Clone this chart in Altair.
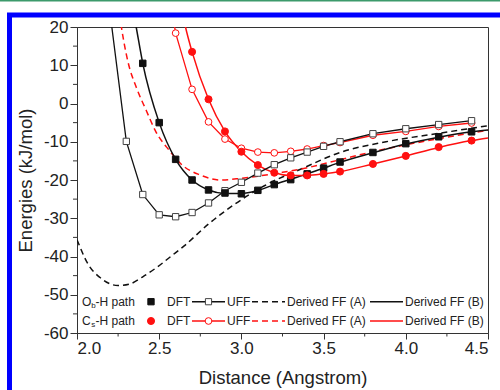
import altair as alt
import pandas as pd

# ---------------- data ----------------
# DFT points
dft_ob_x = [2.4, 2.5, 2.6, 2.7, 2.8, 2.9, 3.0, 3.1, 3.2, 3.3, 3.4, 3.5, 3.6, 3.8, 4.0, 4.2, 4.4]
dft_ob_e = [10.5, -5.0, -14.6, -20.0, -22.6, -23.4, -23.6, -22.7, -21.2, -19.9, -18.4, -16.9, -15.3, -12.8, -10.5, -8.7, -7.4]
dft_cs_x = [2.7, 2.8, 2.9, 3.0, 3.1, 3.2, 3.3, 3.4, 3.5, 3.6, 3.8, 4.0, 4.2, 4.4]
dft_cs_e = [13.5, 1.1, -7.3, -12.6, -16.1, -18.1, -18.8, -18.8, -18.4, -17.8, -15.8, -13.7, -11.4, -9.7]

# UFF
uff_ob_x = [2.2, 2.3, 2.4, 2.5, 2.6, 2.7, 2.8, 2.9, 3.0, 3.1, 3.2, 3.3, 3.4, 3.5, 3.6, 3.8, 4.0, 4.2, 4.4]
uff_ob_e = [24.0, -9.9, -23.8, -29.1, -29.6, -28.5, -26.0, -22.8, -20.6, -18.2, -16.0, -14.2, -12.7, -11.2, -10.0, -7.9, -6.6, -5.5, -4.5]
uff_cs_x = [2.5, 2.6, 2.7, 2.8, 2.9, 3.0, 3.1, 3.2, 3.3, 3.4, 3.5, 3.6, 3.8, 4.0, 4.2, 4.4]
uff_cs_e = [45.0, 18.4, 3.7, -4.8, -9.3, -11.7, -12.7, -12.9, -12.5, -11.9, -11.0, -10.2, -8.3, -7.3, -6.0, -5.1]

# Derived FF (A)
ffa_ob_x = [2.0, 2.07, 2.14, 2.25, 2.32, 2.4, 2.49, 2.57, 2.65, 2.8, 2.95, 3.14, 3.37, 3.6, 3.88, 4.2, 4.5]
ffa_ob_e = [-35.6, -42.2, -45.5, -47.6, -47.2, -45.3, -42.7, -40.0, -37.3, -31.5, -26.6, -21.5, -17.0, -12.8, -10.0, -7.8, -5.8]
ffa_cs_x = [2.25, 2.27, 2.31, 2.36, 2.42, 2.48, 2.56, 2.64, 2.75, 2.87, 2.99, 3.1, 3.25, 3.4, 3.6, 3.8, 4.0, 4.2, 4.5]
ffa_cs_e = [26.0, 20.0, 10.9, 4.3, -1.7, -7.4, -12.2, -16.1, -18.7, -20.0, -19.6, -19.0, -18.0, -16.8, -14.7, -12.6, -10.8, -9.2, -7.0]

# Derived FF (B)
ffb_ob_x = [2.33, 2.36, 2.4, 2.5, 2.6, 2.7, 2.8, 2.9, 3.0, 3.1, 3.2, 3.3, 3.4, 3.5, 3.6, 3.8, 4.0, 4.2, 4.4, 4.5]
ffb_ob_e = [27.0, 20.0, 10.5, -5.0, -14.6, -20.0, -22.6, -23.5, -23.5, -22.7, -21.2, -19.8, -18.4, -16.9, -15.4, -12.9, -10.6, -8.8, -7.4, -6.9]
ffb_cs_x = [2.64, 2.66, 2.7, 2.8, 2.9, 3.0, 3.1, 3.2, 3.3, 3.4, 3.5, 3.6, 3.8, 4.0, 4.2, 4.4, 4.5]
ffb_cs_e = [24.0, 20.0, 13.5, 1.1, -7.3, -12.6, -16.1, -18.1, -18.8, -18.8, -18.4, -17.8, -15.8, -13.7, -11.5, -9.7, -9.0]

x_ticks = [2.0, 2.5, 3.0, 3.5, 4.0, 4.5]
x_minor = [2.25, 2.75, 3.25, 3.75, 4.25]
y_ticks = [20, 10, 0, -10, -20, -30, -40, -50, -60]
y_minor = [15, 5, -5, -15, -25, -35, -45, -55]

# ---------------- styling ----------------
W, H = 411, 306
FONT = "Liberation Sans"
BLACK = "#111111"
RED = "#ff1010"
AXC = "#333333"

xscale = alt.Scale(domain=[2.0, 4.5], nice=False, zero=False)
yscale = alt.Scale(domain=[-60, 20], nice=False, zero=False)
x_axis = alt.Axis(values=x_ticks, format=".1f", title="Distance (Angstrom)",
                  tickSize=6, labelPadding=1, titlePadding=12, grid=False)
y_axis = alt.Axis(values=y_ticks, labelExpr="toString(datum.value)", title="Energies (kJ/mol)",
                  tickSize=7, labelPadding=2, titlePadding=8, grid=False)


def X():
    return alt.X("x:Q", scale=xscale, axis=x_axis)


def Y():
    return alt.Y("y:Q", scale=yscale, axis=y_axis)


def df(xs, ys):
    return pd.DataFrame({"x": xs, "y": ys})


def curve(xs, ys, color, dash=None, interp="monotone", width=1.5):
    kw = dict(color=color, strokeWidth=width, clip=True, interpolate=interp)
    if dash:
        kw["strokeDash"] = dash
    return alt.Chart(df(xs, ys)).mark_line(**kw).encode(x=X(), y=Y())


def pts(xs, ys, shape, color, fill, size):
    return alt.Chart(df(xs, ys)).mark_point(shape=shape, filled=True, fill=fill, stroke=color,
                                            strokeWidth=1, size=size, opacity=1, clip=True).encode(x=X(), y=Y())


layers = []
# Data curves
layers.append(curve(ffa_ob_x, ffa_ob_e, BLACK, dash=[6, 4]))
layers.append(curve(ffa_cs_x, ffa_cs_e, RED, dash=[6, 4]))
layers.append(curve(ffb_ob_x, ffb_ob_e, BLACK))
layers.append(curve(ffb_cs_x, ffb_cs_e, RED))
layers.append(curve(uff_cs_x, uff_cs_e, RED, interp="linear", width=1.3))
layers.append(curve(uff_ob_x, uff_ob_e, BLACK, interp="linear", width=1.3))
layers.append(pts(uff_cs_x, uff_cs_e, "circle", RED, "white", 45))
layers.append(pts(uff_ob_x, uff_ob_e, "square", "#444444", "white", 40))
layers.append(pts(dft_ob_x, dft_ob_e, "square", BLACK, BLACK, 42))
layers.append(pts(dft_cs_x, dft_cs_e, "circle", RED, RED, 50))

# Minor ticks (through the scales)
layers.append(alt.Chart(pd.DataFrame({"x": x_minor})).mark_rule(color=AXC, strokeWidth=1)
              .encode(x=X(), y=alt.value(H), y2=alt.value(H + 3.5)))
layers.append(alt.Chart(pd.DataFrame({"y": y_minor})).mark_rule(color=AXC, strokeWidth=1)
              .encode(y=Y(), x=alt.value(0), x2=alt.value(-4)))

# Decorative frame: blue border and green top line
one = pd.DataFrame({"k": [0]})
layers.append(alt.Chart(one).mark_rect(fillOpacity=0, stroke="#0000ff", strokeWidth=5)
              .encode(x=alt.value(-67.5), x2=alt.value(440), y=alt.value(-12), y2=alt.value(380)))
layers.append(alt.Chart(one).mark_rule(color="#3c9a6b", strokeWidth=1.5)
              .encode(x=alt.value(-80), x2=alt.value(430), y=alt.value(-26.3)))


# Legend (inside plot, bottom)
def txt(s, x, y, color="#222222", size=12, dy=0):
    return alt.Chart(one).mark_text(text=s, align="left", baseline="middle", fontSize=size,
                                    font=FONT, color=color, dy=dy).encode(x=alt.value(x), y=alt.value(y))


def seg(x1, x2, y, color, dash=None):
    kw = dict(color=color, strokeWidth=1.5)
    if dash:
        kw["strokeDash"] = dash
    return alt.Chart(one).mark_rule(**kw).encode(x=alt.value(x1), x2=alt.value(x2), y=alt.value(y))


def mk(x, y, shape, color, fill, size):
    return alt.Chart(one).mark_point(shape=shape, filled=True, fill=fill, stroke=color, strokeWidth=1,
                                     size=size, opacity=1).encode(x=alt.value(x), y=alt.value(y))


rows = [
    (274.7, "O", "b", BLACK, "square"),
    (294.0, "C", "s", RED, "circle"),
]
for ry, big, sub, col, shape in rows:
    layers.append(txt(big, 5, ry))
    layers.append(txt(sub, 14.3, ry, size=8, dy=4))
    layers.append(txt("-H path", 18.5, ry))
    layers.append(mk(74, ry, shape, col, col, 40 if shape == "square" else 50))
    layers.append(txt("DFT", 90, ry))
    layers.append(seg(115, 148, ry, col))
    layers.append(mk(131.5, ry, shape, col if shape == "circle" else "#444444", "white", 38 if shape == "square" else 45))
    layers.append(txt("UFF", 150, ry))
    layers.append(seg(175, 208, ry, col, dash=[6, 4]))
    layers.append(txt("Derived FF (A)", 210, ry))
    layers.append(seg(293, 326, ry, col))
    layers.append(txt("Derived FF (B)", 328, ry))

chart = alt.layer(*layers).properties(
    width=W, height=H,
    autosize=alt.AutoSizeParams(type="none"),
    padding={"left": 77, "top": 27, "right": 12, "bottom": 57},
).configure_view(stroke=AXC, strokeWidth=1).configure_axis(
    domainColor=AXC, tickColor=AXC, labelColor="#222222", titleColor="#222222",
    labelFont=FONT, titleFont=FONT, labelFontSize=17, titleFontSize=18.5,
    titleFontWeight="normal", domainWidth=1, tickWidth=1,
)

chart.save("out.html", embed_options={"renderer": "svg", "actions": False})
